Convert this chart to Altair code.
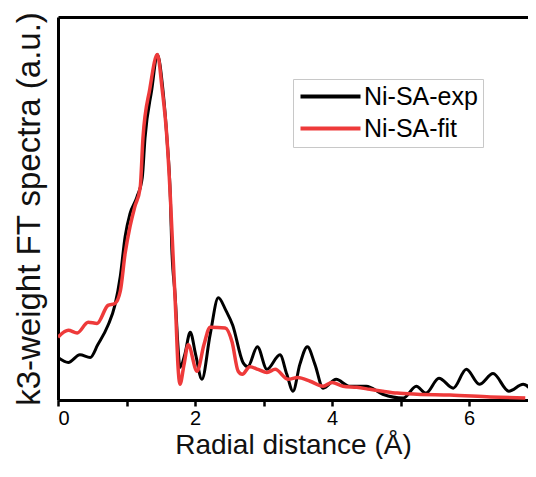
import altair as alt
import pandas as pd

# ---- data ----
series_names = ["Ni-SA-exp", "Ni-SA-fit"]
series_colors = ["#000000", "#ee3a3a"]
x_tick_values = [0, 1, 2, 3, 4, 5, 6]

r_exp = [0.00, 0.15, 0.32, 0.47, 0.58, 0.73, 0.83, 0.91, 0.98, 1.05, 1.15, 1.23, 1.27,
         1.37, 1.45, 1.53, 1.59, 1.64, 1.66, 1.71, 1.75, 1.78, 1.85, 1.93, 2.01, 2.10,
         2.22, 2.34, 2.45, 2.55, 2.70, 2.77, 2.91, 3.05, 3.24, 3.34, 3.43, 3.53, 3.64,
         3.75, 3.87, 4.06, 4.25, 4.50, 4.74, 5.04, 5.23, 5.37, 5.56, 5.77, 5.96, 6.15,
         6.35, 6.58, 6.79, 6.98]
v_exp = [11.1, 9.8, 11.8, 11.1, 14.4, 19.5, 24.7, 32.4, 42.7, 48.6, 52.9, 58.1, 68.4,
         81.2, 90.2, 81.2, 68.4, 52.9, 40.1, 27.2, 14.4, 8.5, 11.8, 17.7, 11.8, 5.4,
         17.0, 26.7, 23.4, 19.5, 9.8, 8.7, 13.9, 8.0, 11.8, 6.7, 2.3, 9.3, 13.9,
         9.3, 3.1, 5.4, 3.6, 3.6, 1.5, 0.5, 3.6, 1.8, 5.7, 3.1, 8.0, 4.1,
         6.9, 2.3, 4.1, 1.0]

r_fit = [0.00, 0.15, 0.28, 0.44, 0.57, 0.73, 0.83, 0.91, 0.98, 1.05, 1.12, 1.20, 1.24,
         1.34, 1.45, 1.52, 1.59, 1.64, 1.68, 1.72, 1.75, 1.78, 1.84, 1.90, 2.03, 2.13,
         2.22, 2.44, 2.54, 2.63, 2.69, 2.80, 2.92, 3.05, 3.17, 3.36, 3.50, 3.68, 3.87,
         4.00, 4.16, 4.36, 4.55, 4.74, 4.95, 5.24, 5.72, 6.31, 6.82]
v_fit = [16.4, 18.2, 17.5, 20.3, 20.0, 24.7, 25.2, 28.5, 38.3, 45.2, 50.4, 55.5, 68.4,
         81.2, 90.2, 81.2, 68.4, 52.9, 37.5, 22.1, 9.3, 4.1, 9.3, 14.4, 7.5, 14.4,
         19.0, 18.8, 15.2, 7.5, 6.7, 8.7, 8.0, 7.2, 8.0, 5.4, 5.9, 4.9, 3.6,
         4.6, 3.6, 3.3, 2.8, 2.3, 1.8, 1.5, 1.3, 0.8, 0.5]

df = pd.concat([
    pd.DataFrame({"r": r_exp, "v": v_exp, "series": series_names[0], "order": range(len(r_exp))}),
    pd.DataFrame({"r": r_fit, "v": v_fit, "series": series_names[1], "order": range(len(r_fit))}),
])

FONT = "Liberation Sans"

color = alt.Color(
    "series:N",
    scale=alt.Scale(domain=series_names, range=series_colors),
    legend=alt.Legend(
        title=None, orient="none", legendX=235, legendY=62,
        symbolType="M-1,0H5", symbolSize=400, symbolStrokeWidth=4,
        labelFontSize=25, labelFont=FONT, labelColor="black", labelOffset=41,
        padding=5, rowPadding=6, strokeColor="#c8c8c8", fillColor="white",
    ),
)

y_enc = alt.Y(
    "v:Q",
    scale=alt.Scale(domain=[0, 100], nice=False),
    axis=alt.Axis(title="k3-weight FT spectra (a.u.)", labels=False, ticks=False, grid=False,
                  domainColor="black", domainWidth=3, titleFontSize=33, titleFont=FONT,
                  titleFontWeight="normal", titleColor="#111", titlePadding=12),
)

x_scale = alt.Scale(domain=[0, 6.86], nice=False)

exp_layer = alt.Chart(df).transform_filter(alt.datum.series == series_names[0]).mark_line(
    strokeWidth=3, interpolate="monotone", clip=True
).encode(
    x=alt.X("r:Q", scale=x_scale,
            axis=alt.Axis(title="Radial distance (Å)", values=x_tick_values,
                          labelExpr="datum.value % 2 == 0 ? datum.label : ''",
                          grid=False, domainColor="black", domainWidth=3,
                          tickColor="black", tickWidth=2.5, tickSize=6,
                          labelFontSize=20, labelFont=FONT, labelColor="black", labelPadding=2,
                          titleFontSize=28, titleFont=FONT, titleFontWeight="normal",
                          titleColor="#111", titlePadding=3)),
    y=y_enc,
    color=color,
    order="order:Q",
)

fit_layer = alt.Chart(df).transform_filter(alt.datum.series == series_names[1]).mark_line(
    strokeWidth=3.5, interpolate="monotone", clip=True
).encode(
    x=alt.X("r:Q", scale=x_scale,
            axis=alt.Axis(orient="top", title=None, labels=False, ticks=False, grid=False,
                          domainColor="black", domainWidth=3)),
    y=y_enc,
    color=color,
    order="order:Q",
)

chart = alt.layer(exp_layer, fit_layer).resolve_axis(x="independent").properties(
    width=470, height=383,
    autosize=alt.AutoSizeParams(type="none"),
    padding={"left": 50, "top": 9, "right": 0, "bottom": 59},
).configure_view(stroke=None).configure(font=FONT)

chart.save("out.html", embed_options={"renderer": "svg", "actions": False})
